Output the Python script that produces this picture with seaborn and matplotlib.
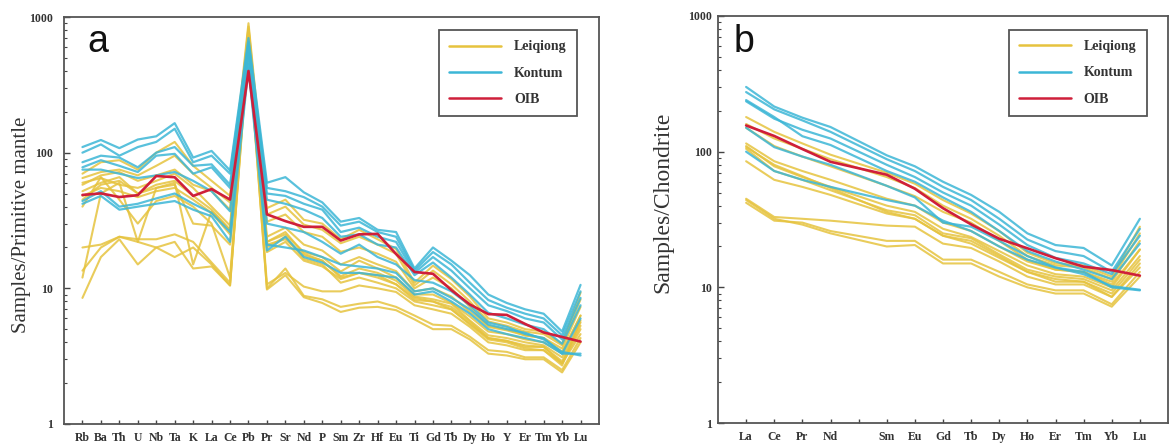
import numpy as np
import pandas as pd
import matplotlib
matplotlib.use("Agg")
import matplotlib.pyplot as plt
import seaborn as sns
from matplotlib.lines import Line2D
from matplotlib.ticker import FixedLocator, NullFormatter, FixedFormatter

# ---------------- data ----------------
spider_elements = ["Rb", "Ba", "Th", "U", "Nb", "Ta", "K", "La", "Ce", "Pb", "Pr", "Sr", "Nd", "P",
                   "Sm", "Zr", "Hf", "Eu", "Ti", "Gd", "Tb", "Dy", "Ho", "Y", "Er", "Tm", "Yb", "Lu"]
ree_tick_labels = ["La", "Ce", "Pr", "Nd", "", "Sm", "Eu", "Gd", "Tb", "Dy", "Ho", "Er", "Tm", "Yb", "Lu"]
ree_elements = [e for e in ree_tick_labels if e]

oib_pm = [48.8, 50.1, 47.1, 48.6, 67.3, 65.9, 48.0, 53.9, 45.1, 400, 35.1, 31.3, 28.4, 28.4,
          22.5, 25.0, 25.2, 17.9, 13.2, 12.8, 9.7, 7.6, 6.46, 6.37, 5.46, 4.73, 4.38, 4.05]
oib_cn = [156, 130.5, 104.5, 84.2, 67.6, 53.3, 38.3, 29.1, 22.8, 19.4, 16.4, 14.2, 13.4, 12.2]

kontum_pm = [
    [110, 124, 108, 125, 132, 165, 92, 103, 74, 700, 60, 66, 51, 43, 31, 33, 27, 26, 14, 20, 16, 12.5, 9, 7.8, 7, 6.5, 4.8, 10.6],
    [100, 115, 95, 110, 120, 150, 85, 95, 70, 650, 55, 52, 47, 40, 29, 31, 26, 24, 13.5, 18.5, 15, 11, 8.2, 7.2, 6.5, 6, 4.5, 9.5],
    [85, 95, 92, 78, 100, 110, 80, 82, 58, 600, 50, 48, 42, 38, 26, 28, 24, 22, 13, 17, 13.5, 10, 7.5, 6.8, 6, 5.6, 4.2, 8.5],
    [78, 88, 80, 72, 95, 98, 70, 78, 55, 550, 45, 42, 38, 33, 24, 25, 21, 20, 12.5, 15.5, 12, 9, 6.6, 6, 5.4, 5, 3.9, 7.5],
    [75, 75, 70, 65, 68, 72, 62, 52, 37, 500, 30, 28, 26, 22, 18, 21, 17, 15, 11.5, 11, 9.5, 7.5, 5.6, 5.2, 4.6, 4.3, 3.3, 3.3],
    [44, 52, 40, 42, 46, 50, 42, 36, 26, 450, 21, 20, 19, 17, 15, 14.5, 14, 13, 9.5, 10, 8.5, 7, 5.4, 5, 4.7, 4.2, 3.4, 3.2],
    [42, 48, 38, 40, 42, 44, 38, 34, 22, 420, 19, 24, 17, 15.5, 13, 13, 12.5, 12, 9, 9.5, 8, 6.5, 5, 4.6, 4.3, 4, 3.3, 6],
]
leiqiong_pm = [
    [70, 85, 88, 75, 100, 120, 80, 62, 48, 900, 39, 45, 32, 30, 23, 27, 23, 19.5, 11, 14.7, 11.7, 8.7, 6, 5.6, 5, 4.8, 3.9, 9.3],
    [65, 72, 75, 68, 80, 95, 70, 55, 43, 850, 35, 40, 29.5, 27, 21.5, 24, 21, 18, 10.5, 13.5, 10.7, 8, 5.7, 5.3, 4.8, 4.6, 3.8, 8.3],
    [60, 65, 58, 55, 62, 70, 55, 40, 29, 800, 24, 28, 21, 19, 15, 17, 15, 13.4, 9.5, 10, 8.7, 6.7, 5.2, 4.9, 4.5, 4.3, 3.6, 7.3],
    [52, 60, 66, 50, 58, 62, 48, 38, 27, 780, 22, 25, 18.5, 17, 13.3, 16, 14, 12, 9, 9, 7.8, 6.2, 4.8, 4.6, 4.2, 4, 3.3, 6.3],
    [48, 55, 52, 47, 52, 55, 45, 36, 25, 760, 21, 23, 17.5, 16, 12.3, 14, 13, 11.4, 8.7, 8.3, 7.7, 5.8, 4.5, 4.3, 4, 3.8, 3.1, 5.6],
    [45, 58, 62, 50, 55, 58, 30, 29, 21, 700, 18.5, 22, 16, 14.5, 11.7, 13, 12, 10.7, 8.5, 8, 7, 5.5, 4.3, 4.1, 3.8, 3.7, 2.9, 5.3],
    [20, 21, 24, 23, 23, 25, 22, 15.5, 11, 650, 10.7, 13, 10.3, 9.5, 9.5, 10.5, 10, 9.4, 7.5, 7, 6.5, 5.2, 4, 3.8, 3.5, 3.5, 2.8, 5],
    [13.5, 20, 24, 22, 20, 22, 14, 14.5, 10.5, 600, 10, 14, 8.8, 8.3, 7.3, 7.7, 8, 7.3, 6.3, 5.4, 5.3, 4.4, 3.5, 3.4, 3.1, 3.1, 2.5, 4.3],
    [8.5, 17, 23, 15, 20, 17, 20, 15, 10.5, 620, 9.8, 12.5, 8.6, 7.8, 6.7, 7.2, 7.3, 6.9, 5.9, 5, 5, 4.2, 3.3, 3.2, 3, 3, 2.4, 4],
    [12, 50, 60, 22, 55, 60, 15, 37, 27, 720, 22, 26, 18, 16, 12, 13, 12.5, 10.7, 8.2, 8, 7.3, 5.7, 4.3, 4.1, 3.7, 3.7, 2.8, 4.6],
    [58, 68, 72, 62, 68, 75, 58, 52, 38, 820, 31, 35, 26, 24, 18.6, 20, 18, 15.7, 10, 12, 10, 7.3, 5.3, 5, 4.5, 4.3, 3.4, 6.3],
    [40, 66, 45, 30, 44, 48, 40, 30, 12, 680, 20, 24, 16.5, 15, 11, 12, 11, 10, 8, 7.5, 7, 5.4, 4.2, 4, 3.6, 3.5, 2.7, 5.8],
]

kontum_cn = [
    [300, 215, 178, 152, 94, 78, 60, 48, 36, 25, 20.5, 19.5, 14.5, 32],
    [275, 205, 170, 140, 88, 72, 55, 44, 32, 22.5, 18.5, 17, 13, 27],
    [235, 175, 145, 125, 80, 65, 50, 40, 29, 20.5, 16.5, 15, 12.5, 24],
    [240, 180, 130, 112, 72, 60, 46, 36, 26, 18.5, 15.5, 13.5, 11.5, 21],
    [150, 108, 92, 80, 56, 46, 30, 28, 22, 17, 14, 13, 10, 9.5],
    [100, 72, 62, 55, 44, 40, 31, 26, 20, 16, 14, 12.5, 10.2, 9.6],
]
leiqiong_cn = [
    [180, 140, 115, 95, 70, 58, 44, 35, 26, 18, 15, 14.5, 12, 28],
    [160, 125, 105, 88, 65, 54, 40, 32, 24, 17, 14.5, 14, 11.5, 25],
    [115, 85, 72, 62, 45, 40, 30, 26, 20, 15.5, 13.5, 13, 11, 22],
    [110, 78, 65, 55, 40, 36, 27, 23.5, 18.5, 14.5, 12.5, 12, 10, 19],
    [105, 72, 62, 52, 37, 34, 25, 23, 17.5, 13.5, 12, 11.5, 9.5, 17],
    [85, 62, 55, 48, 35, 32, 24, 21, 16.5, 13, 11.5, 11, 9, 16],
    [45, 33, 32, 31, 28.5, 28, 21, 19.5, 15.5, 12, 10.5, 10.5, 8.5, 15],
    [42, 31, 30, 26, 22, 22, 16, 16, 13, 10.5, 9.5, 9.5, 7.5, 13],
    [44, 32, 29, 25, 20, 20.5, 15, 15, 12, 10, 9, 9, 7.2, 12],
    [108, 80, 66, 54, 36, 32, 24, 22, 17, 13, 11, 11, 8.5, 14],
    [150, 110, 92, 78, 56, 47, 36, 30, 22, 16, 13.5, 13, 10.5, 19],
]

group_names = ["Leiqiong", "Kontum", "OIB"]
group_colors = {"Leiqiong": "#E6C33E", "Kontum": "#3CB6D6", "OIB": "#CF1F3A"}

# ---------------- helpers ----------------
def long_frame(samples, elements, tick_labels):
    rows = []
    for s, vals in enumerate(samples):
        for el, v in zip(elements, vals):
            rows.append({"sample": s, "element": el, "pos": tick_labels.index(el), "value": v})
    return pd.DataFrame(rows)


sns.set_theme(style="white")
plt.rcParams["font.family"] = ["Liberation Serif", "DejaVu Serif"]

fig = plt.figure(figsize=(11.74, 4.46), dpi=100)
ax_a = fig.add_axes([64 / 1174, 22 / 446, 535 / 1174, 407 / 446])
ax_b = fig.add_axes([718 / 1174, 23 / 446, 450 / 1174, 407 / 446])

panels = [
    (ax_a, spider_elements, spider_elements, leiqiong_pm, kontum_pm, oib_pm),
    (ax_b, ree_elements, ree_tick_labels, leiqiong_cn, kontum_cn, oib_cn),
]

for ax, els, ticks, lq, kt, oib in panels:
    for name, samples, lw, alpha in [("Leiqiong", lq, 1.5, 0.85), ("Kontum", kt, 1.6, 0.85),
                                     ("OIB", [oib], 1.9, 1.0)]:
        df = long_frame(samples, els, ticks)
        sns.lineplot(data=df, x="pos", y="value", units="sample", estimator=None,
                     color=group_colors[name], lw=lw, alpha=alpha, sort=False,
                     legend=False, ax=ax)
    ax.set_yscale("log")
    ax.set_ylim(1, 1000)
    ax.set_xlim(-1, len(ticks))
    ax.xaxis.set_major_locator(FixedLocator(range(len(ticks))))
    ax.xaxis.set_major_formatter(FixedFormatter(ticks))
    ax.yaxis.set_major_locator(FixedLocator([1, 10, 100, 1000]))
    ax.yaxis.set_major_formatter(FixedFormatter(["1", "10", "100", "1000"]))
    minors = [m * 10 ** d for d in range(3) for m in range(2, 10)]
    ax.yaxis.set_minor_locator(FixedLocator(minors))
    ax.yaxis.set_minor_formatter(NullFormatter())
    ax.set_xlabel("")
    for sp in ax.spines.values():
        sp.set_color("#555555")
        sp.set_linewidth(1.3)
    ax.tick_params(axis="x", which="major", direction="in", length=3, width=1, color="#444444",
                   bottom=True, top=False, labelsize=8.5, pad=6)
    ax.tick_params(axis="y", which="major", direction="in", length=4, width=1, color="#444444",
                   left=True, right=False, labelsize=8.5)
    ax.tick_params(axis="y", which="minor", direction="in", length=2.5, width=0.8, color="#444444",
                   left=True, right=False)
    for lab in ax.get_xticklabels() + ax.get_yticklabels():
        lab.set_fontweight("bold")
        lab.set_color("#333333")

ax_a.tick_params(axis="y", which="major", pad=8)
ax_b.tick_params(axis="y", which="major", pad=4)

ax_a.set_ylabel("Samples/Primitive mantle", fontsize=15, color="#333333")
ax_a.yaxis.set_label_coords(-0.062, 0.49)
ax_b.set_ylabel("Samples/Chondrite", fontsize=17, color="#333333")
ax_b.yaxis.set_label_coords(-0.1, 0.543)

ax_a.text(0.043, 0.914, "a", transform=ax_a.transAxes, fontsize=27,
          family=["Liberation Sans", "DejaVu Sans"], color="#111111", va="baseline")
ax_b.text(0.035, 0.912, "b", transform=ax_b.transAxes, fontsize=27,
          family=["Liberation Sans", "DejaVu Sans"], color="#111111", va="baseline")

handles = [Line2D([0], [0], color=group_colors[g], lw=1.8) for g in group_names]
for ax, anchor in [(ax_a, (0.959, 0.968)), (ax_b, (0.953, 0.966))]:
    leg = ax.legend(handles, group_names, loc="upper right", bbox_to_anchor=anchor,
                    borderaxespad=0, frameon=True, fancybox=False, handlelength=3.7,
                    handletextpad=0.95, labelspacing=0.95, borderpad=0.75,
                    prop={"family": ["Liberation Serif"], "weight": "bold", "size": 10})
    fr = leg.get_frame()
    fr.set_edgecolor("#555555")
    fr.set_linewidth(1.3)
    fr.set_alpha(1)
    for t in leg.get_texts():
        t.set_color("#333333")

fig.savefig("out.png", dpi=100)
